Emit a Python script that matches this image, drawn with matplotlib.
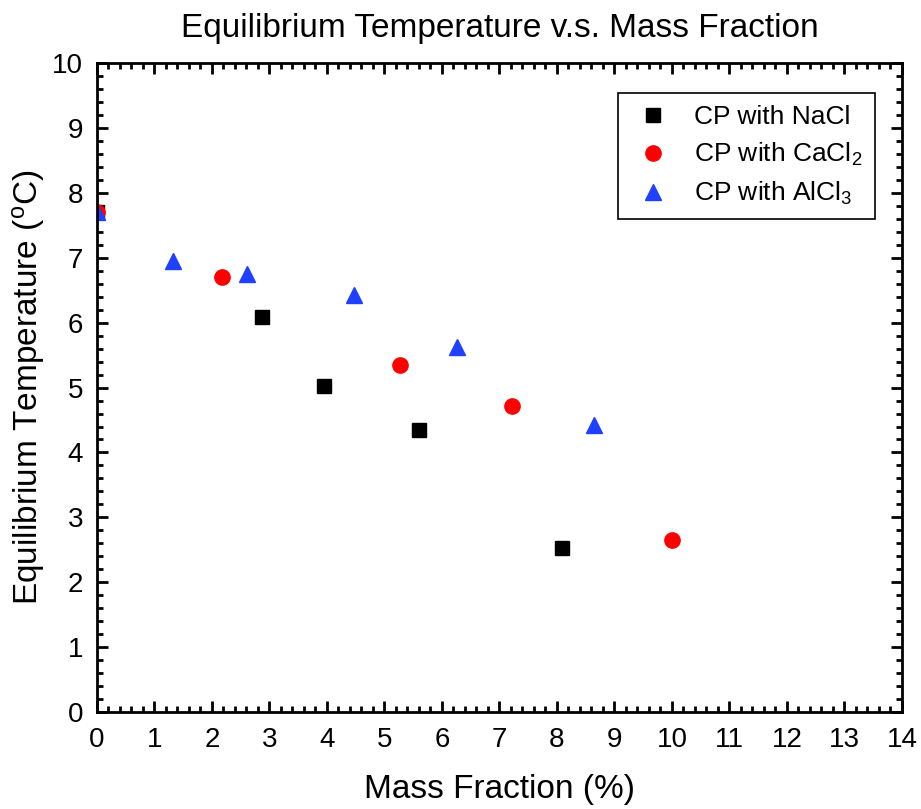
import matplotlib
matplotlib.use("Agg")
import matplotlib.pyplot as plt
from matplotlib.ticker import MultipleLocator

plt.rcParams['font.family'] = ['Liberation Sans', 'DejaVu Sans']
plt.rcParams['mathtext.default'] = 'regular'

# mass fraction (%) and equilibrium temperature (C)
nacl_x = [0.0, 2.87, 3.95, 5.60, 8.09]
nacl_y = [7.7, 6.09, 5.02, 4.35, 2.52]
cacl2_x = [0.0, 2.17, 5.27, 7.22, 10.0]
cacl2_y = [7.7, 6.71, 5.35, 4.72, 2.65]
alcl3_x = [0.0, 1.32, 2.61, 4.47, 6.26, 8.64]
alcl3_y = [7.7, 6.95, 6.75, 6.42, 5.62, 4.42]

fig = plt.figure(figsize=(9.21, 8.09), dpi=100)
ax = fig.add_axes([0.1053, 0.1199, 0.874, 0.802])

ax.plot(nacl_x, nacl_y, 's', color='black', ms=10, label='CP with NaCl')
ax.plot(cacl2_x, cacl2_y, 'o', color='#ff0000', ms=11, label='CP with CaCl$_2$')
ax.plot(alcl3_x, alcl3_y, '^', color='#1f40ff', ms=12, label='CP with AlCl$_3$')

ax.set_xlim(0, 14)
ax.set_ylim(0, 10)
ax.xaxis.set_major_locator(MultipleLocator(1))
ax.xaxis.set_minor_locator(MultipleLocator(0.2))
ax.yaxis.set_major_locator(MultipleLocator(1))
ax.yaxis.set_minor_locator(MultipleLocator(0.2))
ax.tick_params(which='both', direction='in', top=True, right=True, width=2)
ax.tick_params(which='major', length=8, labelsize=20)
ax.tick_params(axis='x', which='major', pad=11)
ax.tick_params(axis='y', which='major', pad=10)
ax.tick_params(which='minor', length=4)
for s in ax.spines.values():
    s.set_linewidth(2)

ax.set_xlabel('Mass Fraction (%)', fontsize=24, labelpad=15)
ax.set_ylabel('Equilibrium Temperature ($^{o}$C)', fontsize=24, labelpad=4)
ax.set_title('Equilibrium Temperature v.s. Mass Fraction', fontsize=24, pad=19)

leg = ax.legend(loc='upper right', bbox_to_anchor=(0.966, 0.954), fontsize=19,
                fancybox=False, edgecolor='black', framealpha=1,
                handlelength=1.8, handletextpad=0.65, borderpad=0.45,
                borderaxespad=0, labelspacing=0.45)
leg.get_frame().set_linewidth(1.2)

fig.savefig('out.png', dpi=100)
